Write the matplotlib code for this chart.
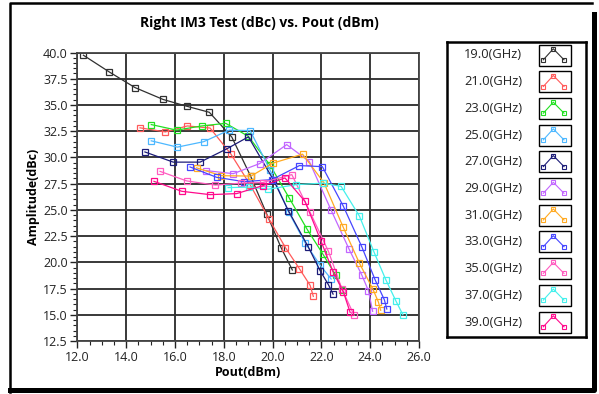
import numpy as np
import matplotlib
matplotlib.use('Agg')
import matplotlib.pyplot as plt
from matplotlib.patches import Rectangle
from matplotlib.lines import Line2D
from matplotlib.ticker import MultipleLocator, FormatStrFormatter

plt.rcParams['font.family'] = ['Open Sans', 'DejaVu Sans']

# series labels and colours
labels = ['19.0(GHz)', '21.0(GHz)', '23.0(GHz)', '25.0(GHz)', '27.0(GHz)', '29.0(GHz)',
          '31.0(GHz)', '33.0(GHz)', '35.0(GHz)', '37.0(GHz)', '39.0(GHz)']
colors = ['#303030', '#ff5a5a', '#22e022', '#4db8ff', '#1c1c78', '#c266ff',
          '#ffaa22', '#4646ff', '#ff5cc0', '#44f0ec', '#ff0a8c']

# Pout (dBm) per series
pout = [
    [12.25, 13.30, 14.36, 15.52, 16.48, 17.41, 18.33, 19.10, 19.76, 20.35, 20.81],
    [14.57, 15.61, 16.51, 17.44, 18.29, 19.08, 19.86, 20.53, 21.10, 21.54, 21.67],
    [15.03, 16.07, 17.10, 18.08, 19.01, 19.90, 20.68, 21.40, 22.06, 22.59, 22.86],
    [15.03, 16.10, 17.18, 18.22, 19.08, 19.89, 20.66, 21.33, 21.95, 22.40],
    [14.77, 15.93, 17.03, 18.12, 19.01, 20.03, 20.65, 21.47, 21.95, 22.29, 22.48],
    [17.28, 18.39, 19.47, 20.58, 21.51, 22.39, 23.14, 23.66, 23.93, 24.10],
    [16.89, 17.89, 19.12, 20.02, 21.23, 22.11, 22.89, 23.56, 24.11, 24.34, 24.43],
    [16.62, 17.71, 18.83, 19.97, 21.10, 22.04, 22.90, 23.66, 24.20, 24.58, 24.68],
    [15.39, 16.48, 17.66, 18.71, 19.59, 20.79, 21.54, 22.29, 22.84, 23.34],
    [18.18, 19.04, 19.83, 20.96, 22.07, 22.81, 23.56, 24.16, 24.64, 25.06, 25.34],
    [15.14, 16.28, 17.44, 18.53, 19.60, 20.51, 21.33, 21.99, 22.49, 22.90, 23.18],
]

# Right IM3 (dBc) per series
im3 = [
    [39.74, 38.16, 36.66, 35.52, 34.88, 34.30, 31.94, 28.22, 24.61, 21.39, 19.27],
    [32.82, 32.43, 33.00, 32.80, 30.33, 27.40, 24.11, 21.39, 19.39, 17.80, 16.75],
    [33.13, 32.60, 33.00, 33.25, 32.01, 29.25, 26.14, 23.21, 20.79, 18.75, 17.39],
    [31.58, 30.98, 31.50, 32.60, 32.56, 28.84, 24.78, 21.87, 19.72, 18.41],
    [30.52, 29.55, 29.55, 30.81, 31.96, 27.88, 24.92, 21.44, 19.20, 17.86, 16.97],
    [28.74, 28.45, 29.41, 31.22, 29.60, 25.02, 21.23, 18.77, 17.29, 15.33],
    [29.00, 28.26, 28.22, 29.46, 30.31, 27.57, 23.37, 19.91, 17.45, 16.19, 15.43],
    [29.09, 28.10, 27.69, 27.88, 29.22, 29.12, 25.35, 21.46, 18.34, 16.43, 15.55],
    [28.67, 27.76, 27.36, 27.55, 27.60, 28.36, 24.76, 21.04, 17.48, 14.95],
    [27.12, 27.17, 26.97, 27.40, 27.55, 27.24, 24.40, 20.96, 18.34, 16.29, 15.00],
    [27.72, 26.77, 26.45, 26.55, 27.31, 28.04, 25.81, 21.99, 19.04, 17.19, 15.22],
]

W, H = 599, 394
fig = plt.figure(figsize=(W / 100, H / 100), dpi=100)

# outer frame: thin left/top, heavy right/bottom
tf = fig.transFigure
fig.lines.append(Line2D([10 / W, 10 / W, 592 / W], [2 / H, 391 / H, 391 / H], transform=tf,
                        color='black', lw=1.8))
fig.lines.append(Line2D([594 / W, 594 / W, 10 / W], [380 / H, 4 / H, 4 / H], transform=tf,
                        color='black', lw=3.6))

ax = fig.add_axes([77.3 / W, 1 - 341 / H, 341.7 / W, 288.5 / H])
for xs, ys, c in zip(pout, im3, colors):
    ax.plot(xs, ys, color=c, lw=0.9, marker='s', ms=4.2, mfc='none', mec=c, mew=0.9)

ax.set_xlim(12, 26)
ax.set_ylim(12.5, 40)
ax.xaxis.set_major_locator(MultipleLocator(2))
ax.xaxis.set_minor_locator(MultipleLocator(0.5))
ax.yaxis.set_major_locator(MultipleLocator(2.5))
ax.yaxis.set_minor_locator(MultipleLocator(0.5))
ax.xaxis.set_major_formatter(FormatStrFormatter('%.1f'))
ax.yaxis.set_major_formatter(FormatStrFormatter('%.1f'))
ax.tick_params(which='major', length=5, width=1, labelsize=9, colors='#222222', pad=2)
ax.tick_params(which='minor', length=3, width=0.8, colors='#222222')
ax.grid(True, which='major', color='#2a2a2a', lw=1.3)
for s in ax.spines.values():
    s.set_color('#444444')
    s.set_linewidth(1.3)

ax.set_xlabel('Pout(dBm)', fontsize=9, fontweight='bold', labelpad=2)
ax.set_ylabel('Amplitude(dBc)', fontsize=9, fontweight='bold', labelpad=2)
fig.text(259 / W, 1 - 23 / H, 'Right IM3 Test (dBc) vs. Pout (dBm)', ha='center', va='center',
         fontsize=10, fontweight='bold')

# legend panel
lg = fig.add_axes([447.3 / W, 1 - 337.3 / H, 138.7 / W, 295 / H])
lg.set_xlim(0, 138.7)
lg.set_ylim(295, 0)
lg.set_xticks([])
lg.set_yticks([])
for s in lg.spines.values():
    s.set_linewidth(1.8)
    s.set_color('black')
for i, (lab, c) in enumerate(zip(labels, colors)):
    cy = 12.7 + i * 26.7
    lg.text(75, cy, lab, ha='right', va='center', fontsize=9.3, color='#222222')
    lg.add_patch(Rectangle((92, cy - 10.5), 31.5, 21, fill=False, edgecolor='black', lw=1.0))
    lg.plot([96, 106, 116.7], [cy + 4.8, cy - 6.2, cy + 4.8], color=c, lw=0.8,
            marker='s', ms=3, mfc='none', mec=c, mew=0.8)

fig.savefig('out.png', dpi=100)
